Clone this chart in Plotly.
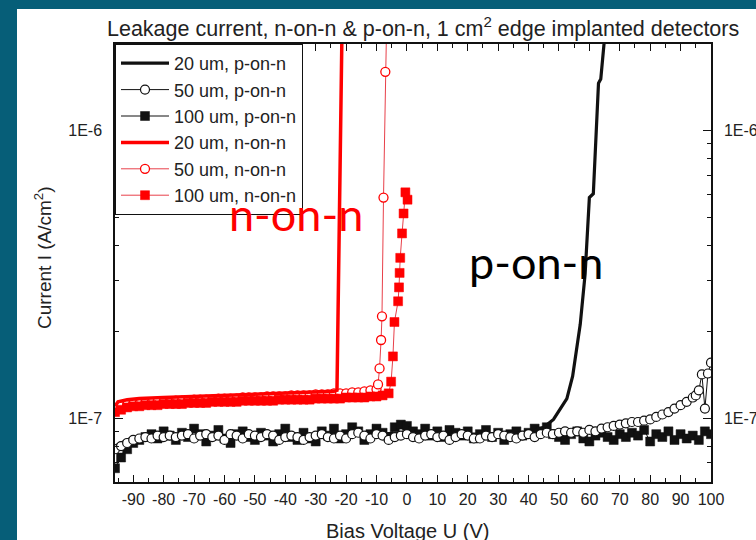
import math
import plotly.graph_objects as go

# ---------------- data (currents in nA/cm^2, voltages in V) ----------------
V_P = [-96, -94, -92, -90, -88, -86, -84, -82, -80, -78,
       -76, -74, -72, -70, -68, -66, -64, -62, -60, -58,
       -56, -54, -52, -50, -48, -46, -44, -42, -40, -38,
       -36, -34, -32, -30, -28, -26, -24, -22, -20, -18,
       -16, -14, -12, -10, -8, -6, -4, -2, 0, 2,
       4, 6, 8, 10, 12, 14, 16, 18, 20, 22,
       24, 26, 28, 30, 32, 34, 36, 38, 40, 42,
       44, 46, 48, 50, 52, 54, 56, 58, 60, 62,
       64, 66, 68, 70, 72, 74, 76, 78, 80, 82,
       84, 86, 88, 90, 92, 94, 96, 98, 100]

I_100P = [67, 73, 78, 82, 84, 86, 88, 85, 90, 87,
          84, 89, 86, 92, 88, 83, 87, 91, 85, 82,
          88, 90, 86, 84, 89, 87, 83, 88, 92, 86,
          84, 89, 85, 83, 90, 87, 92, 85, 88, 93,
          90, 84, 88, 92, 89, 86, 93, 95, 94, 90,
          88, 92, 87, 90, 86, 91, 89, 87, 90, 85,
          88, 91, 86, 89, 84, 88, 90, 87, 89, 92,
          90, 93, 88, 86, 84, 88, 90, 85, 83, 87,
          89, 86, 84, 88, 86, 89, 87, 91, 83, 88,
          86, 90, 84, 88, 85, 87, 84, 90, 88]

V_50P = [-96, -94, -92, -90, -88, -86, -84, -82, -80, -78,
         -76, -74, -72, -70, -68, -66, -64, -62, -60, -58,
         -56, -54, -52, -50, -48, -46, -44, -42, -40, -38,
         -36, -34, -32, -30, -28, -26, -24, -22, -20, -18,
         -16, -14, -12, -10, -8, -6, -4, -2, 0, 2,
         4, 6, 8, 10, 12, 14, 16, 18, 20, 22,
         24, 26, 28, 30, 32, 34, 36, 38, 40, 42,
         44, 46, 48, 50, 52, 54, 56, 58, 60, 62,
         64, 66, 68, 70, 72, 74, 76, 78, 80, 82,
         84, 86, 88, 90, 92, 94, 95, 96, 97, 98, 99, 100]

I_50P = [78, 80, 82, 84, 85, 86, 85, 87, 86, 87,
         86, 87, 88, 85, 87, 88, 86, 87, 84, 88,
         87, 85, 88, 87, 86, 88, 87, 84, 86, 87,
         86, 84, 86, 87, 88, 86, 85, 87, 85, 88,
         89, 87, 85, 88, 87, 84, 86, 87, 88, 86,
         85, 87, 88, 86, 87, 84, 86, 88, 87, 85,
         85, 87, 86, 88, 87, 86, 85, 87, 88, 86,
         88, 89, 88, 89, 90, 89, 90, 89, 91, 90,
         92, 93, 94, 95, 96, 97, 97, 98, 99, 101,
         103, 105, 108, 111, 114, 118, 120, 125, 142, 108, 143, 156]

V_20P = [-96, -90, -80, -70, -60, -50, -40, -30, -20, -10, 0, 10, 20, 30, 40, 45,
         48.2, 52.6, 54.5, 57.0, 58.6, 60.0, 61.3, 63.0, 63.75, 65.0]
I_20P = [80, 86, 87, 87, 87, 88, 87, 87, 88, 88, 89, 88, 88, 88, 89, 93,
         99, 117, 140, 212, 317, 585, 603, 1460, 1510, 2100]

V_20N = [-96, -95, -92, -88, -80, -70, -60, -50, -40, -30, -24, -23.0, -21.4]
I_20N = [110, 114, 116, 117, 118, 119, 120, 121, 122, 123, 124, 125, 2050]

V_50N = [-96, -94, -92, -90, -88, -86, -84, -82, -80, -78,
         -76, -74, -72, -70, -68, -66, -64, -62, -60, -58,
         -56, -54, -52, -50, -48, -46, -44, -42, -40, -38,
         -36, -34, -32, -30, -28, -26, -24, -22, -20, -18,
         -16, -14, -12, -10,
         -9.5, -9.0, -8.5, -8.2, -7.7, -7.1, -6.6]
I_50N = [108, 110, 111, 112, 112, 113, 113, 114, 114, 114,
         115, 115, 115, 116, 116, 116, 116, 117, 117, 117,
         117, 118, 118, 118, 118, 119, 119, 119, 119, 120,
         120, 120, 120, 121, 121, 121, 122, 122, 122, 123,
         123, 124, 125, 126,
         131, 149, 187, 226, 585, 1600, 2600]

V_100N = [-96, -94, -92, -90, -88, -86, -84, -82, -80, -78,
          -76, -74, -72, -70, -68, -66, -64, -62, -60, -58,
          -56, -54, -52, -50, -48, -46, -44, -42, -40, -38,
          -36, -34, -32, -30, -28, -26, -24, -22, -20, -18,
          -16, -14, -12, -10, -8, -6,
          -5.2, -4.6, -4.1, -2.9, -2.6, -2.4, -2.2, -1.6, -1.1, -0.5, 0.2]
I_100N = [105, 107, 109, 110, 110, 111, 111, 111, 112, 112,
          112, 112, 113, 113, 113, 113, 114, 114, 114, 114,
          114, 115, 115, 115, 115, 115, 115, 116, 116, 116,
          116, 116, 116, 117, 117, 117, 117, 117, 118, 118,
          118, 118, 119, 119, 120, 122,
          134, 164, 216, 255, 285, 320, 361, 439, 515, 610, 575]

X_TICKS = [-90, -80, -70, -60, -50, -40, -30, -20, -10, 0, 10, 20, 30, 40, 50, 60, 70, 80, 90, 100]
X_TICKTEXT = ["-90", "-80", "-70", "-60", "-50", "-40", "-30", "-20", "-10", "0",
              "10", "20", "30", "40", "50", "60", "70", "80", "90", "100"]
Y_TICKS = [1e-7, 1e-6]
Y_TICKTEXT = ["1E-7", "1E-6"]
Y_MINOR = [6e-8, 7e-8, 8e-8, 9e-8, 2e-7, 3e-7, 4e-7, 5e-7, 6e-7, 7e-7, 8e-7, 9e-7, 2e-6]
X_RANGE = [-96, 100]
Y_RANGE = [6e-8, 2e-6]

NA = 1e-9  # nA -> A


def amps(vals):
    return [v * NA for v in vals]


RED = "#ff0000"
BLACK = "#111111"
TEAL = "#065e78"
FONT = "Arial"
MS = 9

fig = go.Figure()

# drawing order (bottom -> top); legend order via legendrank
fig.add_trace(go.Scatter(x=V_50N, y=amps(I_50N), name="50 um, n-on-n", legendrank=5,
                         mode="lines+markers",
                         line=dict(color="#e8404a", width=1),
                         marker=dict(symbol="circle", size=MS, color="white",
                                     line=dict(color=RED, width=1.3))))
fig.add_trace(go.Scatter(x=V_100N, y=amps(I_100N), name="100 um, n-on-n", legendrank=6,
                         mode="lines+markers",
                         line=dict(color="#e8404a", width=1),
                         marker=dict(symbol="square", size=MS, color=RED,
                                     line=dict(color=RED, width=0.5))))
fig.add_trace(go.Scatter(x=V_20N, y=amps(I_20N), name="20 um, n-on-n", legendrank=4,
                         mode="lines", line=dict(color=RED, width=3.5)))
fig.add_trace(go.Scatter(x=V_P, y=amps(I_100P), name="100 um, p-on-n", legendrank=3,
                         mode="lines+markers",
                         line=dict(color=BLACK, width=1),
                         marker=dict(symbol="square", size=MS, color=BLACK,
                                     line=dict(color=BLACK, width=0.5))))
fig.add_trace(go.Scatter(x=V_20P, y=amps(I_20P), name="20 um, p-on-n", legendrank=1,
                         mode="lines", line=dict(color=BLACK, width=3.2)))
fig.add_trace(go.Scatter(x=V_50P, y=amps(I_50P), name="50 um, p-on-n", legendrank=2,
                         mode="lines+markers",
                         line=dict(color=BLACK, width=1),
                         marker=dict(symbol="circle", size=MS, color="white",
                                     line=dict(color=BLACK, width=1.2))))
# invisible trace to anchor the right-hand axis
fig.add_trace(go.Scatter(x=[], y=[], yaxis="y2", showlegend=False, hoverinfo="skip"))

ylog = [math.log10(Y_RANGE[0]), math.log10(Y_RANGE[1])]

axis_common = dict(showline=True, linecolor=BLACK, linewidth=1.5,
                   ticks="inside", tickcolor=BLACK, tickwidth=1.2,
                   showgrid=False, zeroline=False, automargin=False,
                   tickfont=dict(family=FONT, size=16, color="#222222"))

fig.update_layout(
    width=756, height=540, autosize=False,
    margin=dict(l=115, r=45, t=44, b=58, pad=0, autoexpand=False),
    paper_bgcolor=TEAL, plot_bgcolor="white",
    showlegend=True,
    legend=dict(x=0, y=1, xanchor="left", yanchor="top",
                bgcolor="white", bordercolor=BLACK, borderwidth=1,
                font=dict(family=FONT, size=18, color="#222222"),
                tracegroupgap=0, itemwidth=48, entrywidth=205, entrywidthmode="pixels"),
    xaxis=dict(range=X_RANGE, tickmode="array", tickvals=X_TICKS, ticktext=X_TICKTEXT,
               ticklen=7, mirror="ticks", ticklabelstandoff=2,
               minor=dict(ticks="inside", ticklen=4, dtick=5, tick0=-95,
                          tickcolor=BLACK, showgrid=False),
               **axis_common),
    yaxis=dict(type="log", range=ylog, tickmode="array", tickvals=Y_TICKS,
               ticktext=Y_TICKTEXT, ticklen=8, ticklabelstandoff=8,
               minor=dict(ticks="inside", ticklen=4, tickvals=Y_MINOR,
                          tickcolor=BLACK, showgrid=False),
               **axis_common),
    yaxis2=dict(type="log", range=ylog, overlaying="y", side="right",
                tickmode="array", tickvals=Y_TICKS, ticktext=Y_TICKTEXT,
                ticklen=8, ticklabelstandoff=8,
                minor=dict(ticks="inside", ticklen=4, tickvals=Y_MINOR,
                           tickcolor=BLACK, showgrid=False),
                **axis_common),
)

# white slide area
fig.add_shape(type="rect", xref="paper", yref="paper",
              x0=(17 - 115) / 596, x1=1.2, y0=-0.3, y1=(482 - 9) / 438,
              fillcolor="white", line=dict(width=0), layer="below")


def px_x(px):
    return (px - 115) / 596


def px_y(py):
    return (482 - py) / 438


fig.add_annotation(text="Leakage current, n-on-n & p-on-n, 1 cm<sup>2</sup> edge implanted detectors",
                   xref="paper", yref="paper", x=px_x(423), y=px_y(27),
                   xanchor="center", yanchor="middle", showarrow=False,
                   font=dict(family=FONT, size=21.5, color="#222222"))
fig.add_annotation(text="Current I (A/cm<sup>2</sup>)", textangle=-90,
                   xref="paper", yref="paper", x=px_x(43), y=px_y(258),
                   xanchor="center", yanchor="middle", showarrow=False,
                   font=dict(family=FONT, size=19, color="#222222"))
fig.add_annotation(text="Bias Voltage U (V)",
                   xref="paper", yref="paper", x=px_x(407), y=px_y(531),
                   xanchor="center", yanchor="middle", showarrow=False,
                   font=dict(family=FONT, size=20, color="#222222"))
fig.add_annotation(text="n-on-n", xref="paper", yref="paper",
                   x=px_x(296), y=px_y(214), xanchor="center", yanchor="middle",
                   showarrow=False, font=dict(family="Lato", size=45, color=RED))
fig.add_annotation(text="p-on-n", xref="paper", yref="paper",
                   x=px_x(536), y=px_y(262), xanchor="center", yanchor="middle",
                   showarrow=False, font=dict(family="Lato", size=45, color="black"))

fig.write_html("out.html")
